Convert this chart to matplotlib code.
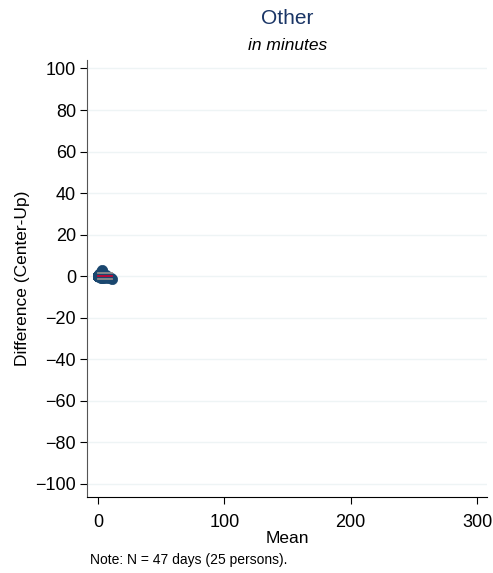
import numpy as np
import matplotlib.pyplot as plt

plt.rcParams['font.family'] = ['Liberation Sans', 'DejaVu Sans']

# per-day mean and difference (Center - Up), minutes
mean_min = [0] * 30 + [1, 1.5, 2, 2.5, 3, 3, 2, 4, 5, 6, 8, 10, 11, 3.5, 1, 0.5, 2]
diff_min = [0] * 30 + [0, 1, -1, 2, 3, -1, 1.5, 0, -1, 0.5, -1, -1, -1.5, 2.5, -0.5, 1, 0]

x_ticks = [0, 100, 200, 300]
y_ticks = list(range(-100, 101, 20))

mean_arr = np.array(mean_min, dtype=float)
diff_arr = np.array(diff_min, dtype=float)
md = diff_arr.mean()
sd = diff_arr.std(ddof=1)
xr = [mean_arr.min(), mean_arr.max()]

fig = plt.figure(figsize=(4.93, 5.73), dpi=100)
ax = fig.add_axes([0.1765, 0.1326, 0.8115, 0.7624])

for yt in y_ticks:
    ax.axhline(yt, color='#eef4f5', lw=1, zorder=0)

ax.scatter(mean_arr, diff_arr, s=55, color='#1a476f', edgecolors='#1a476f',
           linewidths=0.5, zorder=2)
ax.plot(xr, [md + 1.96 * sd] * 2, color='#8c8c8c', lw=1.3, zorder=3)
ax.plot(xr, [md - 1.96 * sd] * 2, color='#8c8c8c', lw=1.3, zorder=3)
ax.plot(xr, [md] * 2, color='#c10534', lw=1.3, zorder=3)

ax.set_xlim(-8.7, 308)
ax.set_ylim(-106.3, 104)
ax.set_xticks(x_ticks)
ax.set_yticks(y_ticks)
ax.tick_params(labelsize=13, length=5, width=0.8, colors='black', pad=3)
ax.tick_params(axis='x', pad=7)
ax.spines['top'].set_visible(False)
ax.spines['right'].set_visible(False)
ax.spines['left'].set_color('#555555')
ax.spines['bottom'].set_color('#000000')

ax.set_xlabel('Mean', fontsize=12.5, labelpad=0)
ax.set_ylabel('Difference (Center-Up)', fontsize=12.5, labelpad=4)

fig.text(0.583, 0.968, 'Other', ha='center', va='center', fontsize=15, color='#1a3566')
fig.text(0.583, 0.920, 'in minutes', ha='center', va='center', fontsize=12.5,
         style='italic')
fig.text(0.183, 0.022, 'Note: N = 47 days (25 persons).', ha='left', va='center',
         fontsize=10)

fig.savefig('out.png', dpi=100)
